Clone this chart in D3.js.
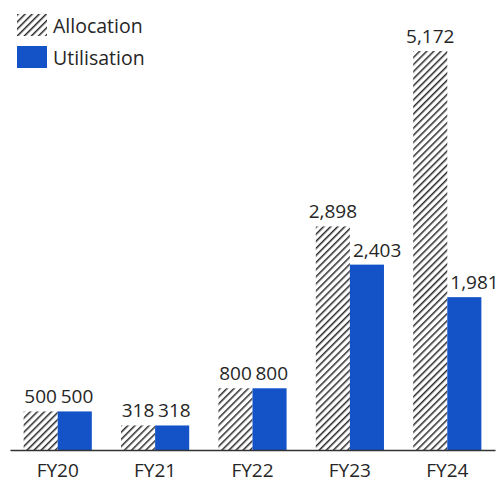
<!DOCTYPE html>
<html>
<head>
<meta charset="utf-8">
<script src="https://cdn.jsdelivr.net/npm/d3@7"></script>
<style>
  body { margin: 0; background: #fff; overflow: hidden; }
  svg { display: block; }
  text { font-family: "Segoe UI", "Open Sans", sans-serif; fill: #262626; }
</style>
</head>
<body>
<script>
const years = ["FY20", "FY21", "FY22", "FY23", "FY24"];
const allocation = [500, 318, 800, 2898, 5172];
const utilisation = [500, 318, 800, 2403, 1981];
const seriesNames = ["Allocation", "Utilisation"];

const w = 500;
const h = 480;
const baseY = 450;
const blue = "#1353c7";

const svg = d3.select("body")
              .append("svg")
              .attr("width", w)
              .attr("height", h);

// diagonal hatch for allocation bars
const pat = svg.append("defs")
  .append("pattern")
  .attr("id", "hatch")
  .attr("patternUnits", "userSpaceOnUse")
  .attr("width", 5)
  .attr("height", 5)
  .attr("patternTransform", "rotate(45)");
pat.append("rect").attr("width", 5).attr("height", 5).attr("fill", "#fff");
pat.append("line")
  .attr("x1", 0).attr("y1", 0).attr("x2", 0).attr("y2", 5)
  .attr("stroke", "#2a2a2a").attr("stroke-width", 3);

const xScale = d3.scaleBand()
                 .domain(years)
                 .range([10, 495])
                 .paddingInner(0.3)
                 .paddingOuter(0.14);

const inner = d3.scaleBand()
                .domain(seriesNames)
                .range([0, xScale.bandwidth()]);

const yScale = d3.scaleLinear()
                 .domain([0, 5172])
                 .range([baseY, 51]);

const rows = years.map((y, i) => ({ year: y, vals: [allocation[i], utilisation[i]] }));

const groups = svg.selectAll("g.year")
  .data(rows)
  .enter()
  .append("g")
  .attr("class", "year")
  .attr("transform", d => "translate(" + xScale(d.year) + ",0)");

groups.selectAll("rect")
  .data(d => d.vals.map((v, k) => ({ key: seriesNames[k], v: v })))
  .enter()
  .append("rect")
  .attr("x", d => inner(d.key))
  .attr("y", d => yScale(d.v))
  .attr("width", inner.bandwidth())
  .attr("height", d => baseY - yScale(d.v))
  .attr("fill", d => d.key === "Allocation" ? "url(#hatch)" : blue);

// allocation labels centred, utilisation labels pushed right of the hatched bar
groups.selectAll("text.val")
  .data(d => d.vals.map((v, k) => ({ key: seriesNames[k], v: v })))
  .enter()
  .append("text")
  .attr("class", "val")
  .attr("x", d => d.key === "Allocation"
    ? inner(d.key) + inner.bandwidth() / 2
    : inner(d.key) + 3)
  .attr("y", d => yScale(d.v) - 8)
  .attr("text-anchor", d => d.key === "Allocation" ? "middle" : "start")
  .attr("font-size", 19)
  .text(d => d3.format(",")(d.v));

const xAxis = d3.axisBottom(xScale).tickSize(0).tickPadding(14);
const gx = svg.append("g")
  .attr("id", "x-axis")
  .attr("transform", "translate(0," + baseY + ")")
  .call(xAxis);
gx.select(".domain").attr("stroke", "#333").attr("stroke-width", 1.5);
gx.selectAll(".tick text")
  .attr("dy", null)
  .attr("y", 27)
  .attr("font-size", 19)
  .attr("font-family", "'Segoe UI', 'Open Sans', sans-serif")
  .attr("fill", "#262626");

// legend
const legend = svg.append("g").attr("transform", "translate(17,14)");
seriesNames.forEach((name, i) => {
  legend.append("rect")
    .attr("x", 0)
    .attr("y", i * 32)
    .attr("width", 30)
    .attr("height", 22)
    .attr("fill", i === 0 ? "url(#hatch)" : blue);
  legend.append("text")
    .attr("x", 36)
    .attr("y", i * 32 + 19)
    .attr("font-size", 19.5)
    .text(name);
});
</script>
</body>
</html>
